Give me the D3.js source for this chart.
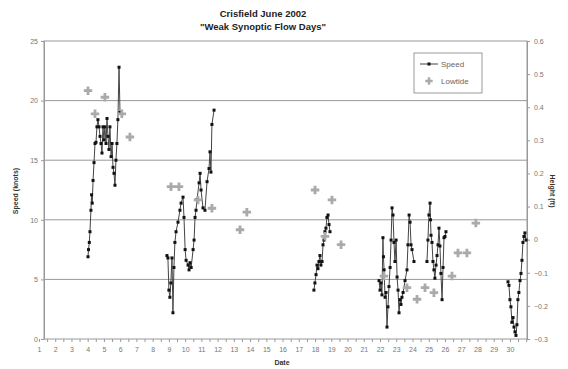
<!DOCTYPE html>
<html>
<head>
<meta charset="utf-8">
<script src="https://cdn.jsdelivr.net/npm/d3@7"></script>
<style>
  body { margin: 0; background: #fff; }
  svg { font-family: "Liberation Sans", Arial, sans-serif; }
  .axis text { fill: #777; font-size: 7px; }
  .axis path, .axis line { stroke: #999; }
</style>
</head>
<body>
<svg id="chart" width="568" height="369"></svg>
<script>
const dayTicks = d3.range(1, 31);
const speedTicks = [0, 5, 10, 15, 20, 25];
const heightTicks = [-0.3, -0.2, -0.1, 0, 0.1, 0.2, 0.3, 0.4, 0.5, 0.6];

// wind speed (knots) by June day, one array per weak-flow period
const speedJun4 = [
  [4.02, 6.9], [4.05, 7.5], [4.10, 8.1], [4.14, 9.0], [4.20, 10.8], [4.24, 12.1], [4.28, 11.4],
  [4.33, 13.3], [4.39, 14.8], [4.45, 16.4], [4.51, 16.5], [4.57, 17.8], [4.63, 18.4], [4.70, 17.8],
  [4.76, 17.0], [4.82, 16.4], [4.88, 15.6], [4.94, 17.8], [5.00, 16.7], [5.06, 17.8], [5.13, 16.4],
  [5.19, 18.5], [5.25, 17.0], [5.31, 15.9], [5.37, 17.8], [5.44, 15.3], [5.50, 16.4], [5.56, 14.4],
  [5.62, 13.9], [5.68, 12.9], [5.74, 15.0], [5.80, 16.4], [5.86, 18.4], [5.93, 22.8], [5.99, 19.0]
];
const speedJun9 = [
  [8.88, 7.0], [8.94, 6.8], [9.00, 4.1], [9.06, 3.5], [9.12, 4.7], [9.19, 6.8], [9.25, 2.2],
  [9.31, 6.0], [9.37, 8.1], [9.44, 9.0], [9.56, 9.8], [9.68, 10.8], [9.75, 11.4], [9.87, 11.9],
  [9.93, 10.2], [10.00, 7.5], [10.06, 6.6], [10.18, 6.2], [10.24, 5.8], [10.30, 6.4], [10.37, 6.0],
  [10.49, 7.5], [10.55, 8.3], [10.61, 10.2], [10.67, 10.8], [10.73, 11.7], [10.86, 13.1],
  [10.92, 13.9], [10.98, 12.5], [11.10, 11.0], [11.22, 10.8], [11.35, 13.2], [11.47, 14.3],
  [11.53, 15.7], [11.59, 14.0], [11.65, 18.0], [11.78, 19.2]
];
const speedJun18 = [
  [17.93, 4.1], [17.99, 4.7], [18.06, 5.4], [18.12, 6.2], [18.18, 5.9], [18.24, 6.5], [18.30, 7.0],
  [18.36, 6.2], [18.43, 6.5], [18.49, 7.9], [18.55, 8.3], [18.61, 9.0], [18.67, 9.3], [18.73, 10.2],
  [18.80, 10.4], [18.86, 9.6], [18.92, 9.0]
];
const speedJun22 = [
  [21.94, 4.9], [22.00, 4.1], [22.06, 4.7], [22.12, 3.7], [22.18, 8.5], [22.21, 6.9], [22.25, 5.8],
  [22.31, 3.5], [22.37, 3.9], [22.43, 1.0], [22.49, 2.7], [22.55, 4.4], [22.62, 6.0], [22.68, 8.3],
  [22.74, 11.0], [22.80, 10.4], [22.86, 8.1], [22.92, 6.5], [22.99, 8.3], [23.05, 5.2], [23.11, 4.1],
  [23.17, 2.2], [23.23, 3.3], [23.29, 2.9], [23.35, 3.5], [23.42, 3.9], [23.54, 4.9], [23.66, 5.8],
  [23.72, 7.9], [23.79, 10.4], [23.85, 9.8], [23.91, 7.9], [23.97, 7.5], [24.09, 6.5]
];
const speedJun25 = [
  [24.89, 6.5], [24.95, 8.3], [25.01, 10.4], [25.08, 11.4], [25.11, 10.0], [25.14, 8.7],
  [25.20, 8.1], [25.26, 6.5], [25.32, 5.8], [25.38, 5.1], [25.45, 6.2], [25.51, 7.0], [25.57, 7.9],
  [25.63, 9.3], [25.69, 7.8], [25.75, 5.5], [25.82, 3.3], [25.88, 6.0], [25.94, 8.5], [26.00, 8.6],
  [26.06, 9.0]
];
const speedJun30 = [
  [29.88, 4.8], [29.94, 4.5], [30.00, 3.3], [30.06, 2.7], [30.12, 1.4], [30.19, 1.8], [30.25, 1.0],
  [30.31, 0.6], [30.37, 0.3], [30.43, 1.2], [30.49, 3.3], [30.55, 3.9], [30.62, 4.9], [30.68, 5.5],
  [30.74, 6.6], [30.80, 8.1], [30.86, 8.6], [30.92, 8.9], [30.99, 8.3]
];
const speedPeriods = [speedJun4, speedJun9, speedJun18, speedJun22, speedJun25, speedJun30];

// low tide height (ft) by June day
const lowtide = [
  [4.02, 0.45], [4.45, 0.38], [5.06, 0.43], [6.10, 0.38], [6.60, 0.31],
  [9.13, 0.16], [9.62, 0.16], [10.79, 0.12], [11.65, 0.095], [13.38, 0.03], [13.80, 0.083],
  [18.00, 0.15], [18.61, 0.01], [19.04, 0.12], [19.60, -0.015],
  [22.24, -0.11], [23.66, -0.145], [24.28, -0.18], [24.77, -0.145], [25.32, -0.16],
  [26.43, -0.11], [26.80, -0.04], [27.35, -0.04], [27.90, 0.05]
];

const titleLines = ['Crisfield June 2002', '"Weak Synoptic Flow Days"'];

const svg = d3.select('#chart');
const plotLeft = 44, plotRight = 527, plotTop = 41, plotBottom = 339;

const x = d3.scaleLinear().domain([1.31, 31.05]).range([plotLeft, plotRight]);
const ySpeed = d3.scaleLinear().domain([0, 25]).range([plotBottom, plotTop]);
const yHeight = d3.scaleLinear().domain([-0.3, 0.6]).range([plotBottom, plotTop]);

// gridlines
svg.append('g')
  .selectAll('line')
  .data(speedTicks.filter((d) => d > 0 && d < 25))
  .join('line')
  .attr('x1', plotLeft)
  .attr('x2', plotRight)
  .attr('y1', (d) => ySpeed(d))
  .attr('y2', (d) => ySpeed(d))
  .attr('stroke', '#999');

svg.append('rect')
  .attr('x', plotLeft).attr('y', plotTop)
  .attr('width', plotRight - plotLeft).attr('height', plotBottom - plotTop)
  .attr('fill', 'none').attr('stroke', '#999');

svg.append('g')
  .attr('class', 'axis')
  .attr('transform', `translate(${plotLeft},0)`)
  .call(d3.axisLeft(ySpeed).tickValues(speedTicks).tickSize(3).tickPadding(3));

svg.append('g')
  .attr('class', 'axis')
  .attr('transform', `translate(${plotRight},0)`)
  .call(d3.axisRight(yHeight).tickValues(heightTicks).tickSize(3).tickPadding(4)
    .tickFormat((d) => (Math.abs(d) < 1e-9 ? '0' : d3.format('.1f')(d))));

const xAxis = svg.append('g')
  .attr('class', 'axis')
  .attr('transform', `translate(0,${plotBottom})`)
  .call(d3.axisBottom(x).tickValues(d3.range(1, 31.01, 0.5)).tickSize(3).tickPadding(5)
    .tickFormat((d) => (dayTicks.includes(d) ? d : '')));
xAxis.select('.domain').remove();

// speed lines + markers
const line = d3.line().x((d) => x(d[0])).y((d) => ySpeed(d[1]));
const speedG = svg.append('g');
speedG.selectAll('path')
  .data(speedPeriods)
  .join('path')
  .attr('d', line)
  .attr('fill', 'none')
  .attr('stroke', '#444')
  .attr('stroke-width', 1);
speedG.selectAll('rect')
  .data(speedPeriods.flat())
  .join('rect')
  .attr('x', (d) => x(d[0]) - 1.5)
  .attr('y', (d) => ySpeed(d[1]) - 1.5)
  .attr('width', 3)
  .attr('height', 3)
  .attr('fill', '#111');

// low tide markers
svg.append('g')
  .selectAll('path')
  .data(lowtide)
  .join('path')
  .attr('transform', (d) => `translate(${x(d[0])},${yHeight(d[1])})`)
  .attr('d', d3.symbol(d3.symbolCross, 40))
  .attr('fill', '#aaa');

// legend
const legend = svg.append('g').attr('transform', 'translate(414,53)');
legend.append('rect').attr('width', 68).attr('height', 40).attr('fill', '#fff').attr('stroke', '#999');
legend.append('line').attr('x1', 6).attr('x2', 24).attr('y1', 11).attr('y2', 11).attr('stroke', '#444');
legend.append('rect').attr('x', 13.5).attr('y', 9.5).attr('width', 3).attr('height', 3).attr('fill', '#111');
legend.append('path').attr('transform', 'translate(15,28)').attr('d', d3.symbol(d3.symbolCross, 30)).attr('fill', '#aaa');
legend.selectAll('text.lbl')
  .data(['Speed', 'Lowtide'])
  .join('text')
  .attr('class', 'lbl')
  .attr('x', 27)
  .attr('y', (d, i) => 14 + i * 17)
  .attr('font-size', 8)
  .attr('fill', '#666')
  .text((d) => d);

// titles
svg.selectAll('text.title')
  .data(titleLines)
  .join('text')
  .attr('class', 'title')
  .attr('x', 263)
  .attr('y', (d, i) => 17 + i * 13)
  .attr('text-anchor', 'middle')
  .attr('font-size', 9.5)
  .attr('font-weight', 'bold')
  .attr('fill', '#222')
  .text((d) => d);

svg.append('text')
  .attr('transform', 'translate(18,191) rotate(-90)')
  .attr('text-anchor', 'middle')
  .attr('font-size', 7)
  .attr('font-weight', 'bold')
  .attr('fill', '#333')
  .text('Speed (knots)');

svg.append('text')
  .attr('transform', 'translate(550,191) rotate(90)')
  .attr('text-anchor', 'middle')
  .attr('font-size', 7)
  .attr('font-weight', 'bold')
  .attr('fill', '#333')
  .text('Height (ft)');

svg.append('text')
  .attr('x', 282)
  .attr('y', 365)
  .attr('text-anchor', 'middle')
  .attr('font-size', 7)
  .attr('font-weight', 'bold')
  .attr('fill', '#333')
  .text('Date');
</script>
</body>
</html>
